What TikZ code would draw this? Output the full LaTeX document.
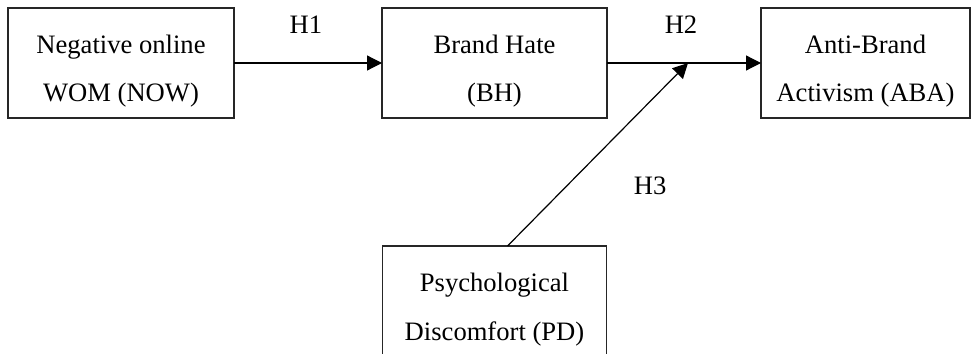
\documentclass[tikz,border=0pt]{standalone}
\usepackage{fontspec}
\setmainfont{Liberation Serif}
\usepackage{tikz}
\usetikzlibrary{arrows.meta,positioning,calc}
\tikzset{
  box/.style={draw=black!85, line width=0.7pt, outer sep=0pt, inner sep=0pt, minimum height=55pt, align=center, text height=42pt, text depth=3pt, font=\fontsize{13.3pt}{24.3pt}\selectfont},
  hyp/.style={font=\fontsize{13.3pt}{16pt}\selectfont, anchor=base, inner sep=0pt},
  link/.style={-{Triangle[length=7.5pt,width=7.5pt]}, line width=0.6pt},
}
\begin{document}
\begin{tikzpicture}
  \useasboundingbox (0,0) rectangle (486.5pt,-176.5pt);
  \clip (0,0) rectangle (486.5pt,-176.5pt);
  % boxes
  \node[box,minimum width=113pt] (now) at (60.5pt,-31.5pt) {Negative online\\WOM (NOW)};
  \node[box,minimum width=112.5pt,right=74pt of now] (bh) {Brand Hate\\(BH)};
  \node[box,minimum width=104.5pt,right=77pt of bh] (aba) {Anti-Brand\\Activism (ABA)};
  \node[box,minimum width=112pt,below=64pt of bh] (pd) {Psychological\\Discomfort (PD)};
  \coordinate (mod) at ($(bh.east)!0.526!(aba.west)$);
  % arrows
  \draw[link] (now.east) -- (bh.west) node[hyp,midway,yshift=14.5pt,xshift=-1pt]{H1};
  \draw[link] (bh.east) -- (aba.west) node[hyp,midway,yshift=14.5pt,xshift=-1.5pt]{H2};
  \draw[link] ([xshift=6.5pt]pd.north) -- (mod) node[hyp,pos=0.28,xshift=46pt]{H3};
\end{tikzpicture}
\end{document}
